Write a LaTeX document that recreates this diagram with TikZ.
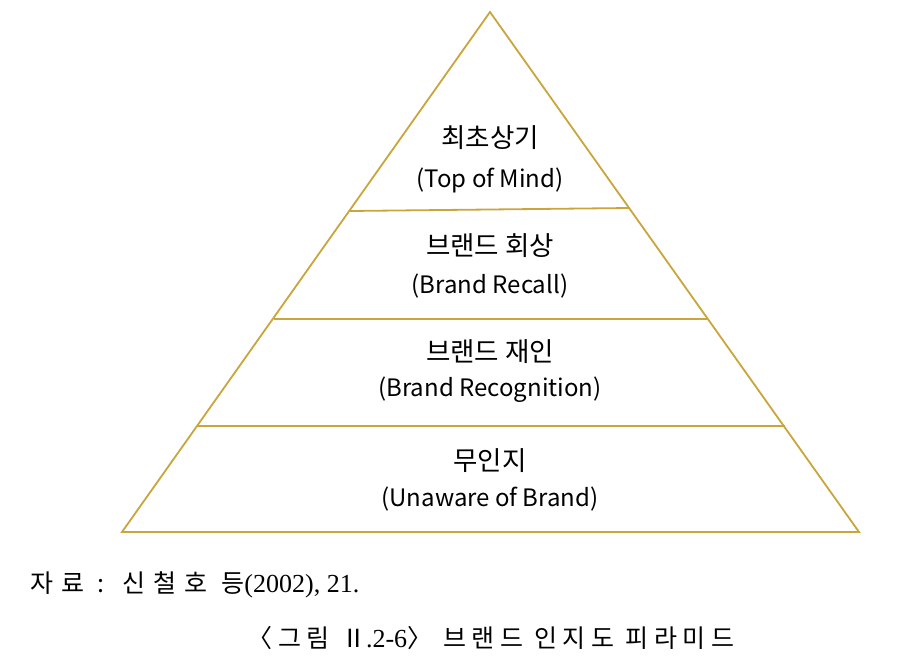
\documentclass[tikz,border=0pt]{standalone}
\usepackage{fontspec}
\setmainfont{Noto Sans CJK KR}
\newfontfamily\kfont{Noto Sans CJK KR}
\newfontfamily\kspaced{Noto Sans CJK KR}[LetterSpace=22]
\newfontfamily\kwide{Noto Sans CJK KR}[LetterSpace=32]
\newfontfamily\lserif{Liberation Serif}
\definecolor{gold}{HTML}{C9A53C}
\begin{document}
\begin{tikzpicture}[x=1pt,y=-1pt,
  edge/.style={draw=gold,line width=1.8pt,line join=miter},
  lbl/.style={font=\kfont\fontsize{24}{28}\selectfont,align=center,inner sep=0pt},
  klbl/.style={font=\kfont\fontsize{26.5}{30}\selectfont,align=center,inner sep=0pt},
  captxt/.style={font=\kspaced\fontsize{25}{28}\selectfont,inner sep=0pt},
  srctxt/.style={font=\kwide\fontsize{25}{28}\selectfont,inner sep=0pt}]
\useasboundingbox (0,0) rectangle (900,668);
\coordinate (apex) at (490,12);
\coordinate (bl) at (122,532);
\coordinate (br) at (859,532);
\coordinate (l1) at (350,211);
\coordinate (r1) at (630,208);
\coordinate (l2) at (274,319);
\coordinate (r2) at (707,319);
\coordinate (l3) at (197,426);
\coordinate (r3) at (785,426);
\draw[edge] (apex) -- (br) -- (bl) -- cycle;
\draw[edge] (l1) -- (r1);
\draw[edge] (l2) -- (r2);
\draw[edge] (l3) -- (r3);
\node[klbl] (k1) at (490,138) {최초상기};
\node[lbl] (e1) at (490,180) {(Top of Mind)};
\node[klbl] (k2) at (490,246) {브랜드 회상};
\node[lbl] (e2) at (490,286) {(Brand Recall)};
\node[klbl] (k3) at (490,352) {브랜드 재인};
\node[lbl] (e3) at (490,390) {(Brand Recognition)};
\node[klbl] (k4) at (490,461) {무인지};
\node[lbl] (e4) at (490,499) {(Unaware of Brand)};
\node[srctxt,anchor=west] (src) at (30,585) {자료 : 신철호 등{\lserif\fontsize{26}{28}\selectfont(2002), 21.}};
\node[captxt] (fig) at (491,638) {〈그림 Ⅱ{\lserif\fontsize{26}{28}\selectfont.2-6}〉 브랜드 인지도 피라미드};
\end{tikzpicture}
\end{document}
